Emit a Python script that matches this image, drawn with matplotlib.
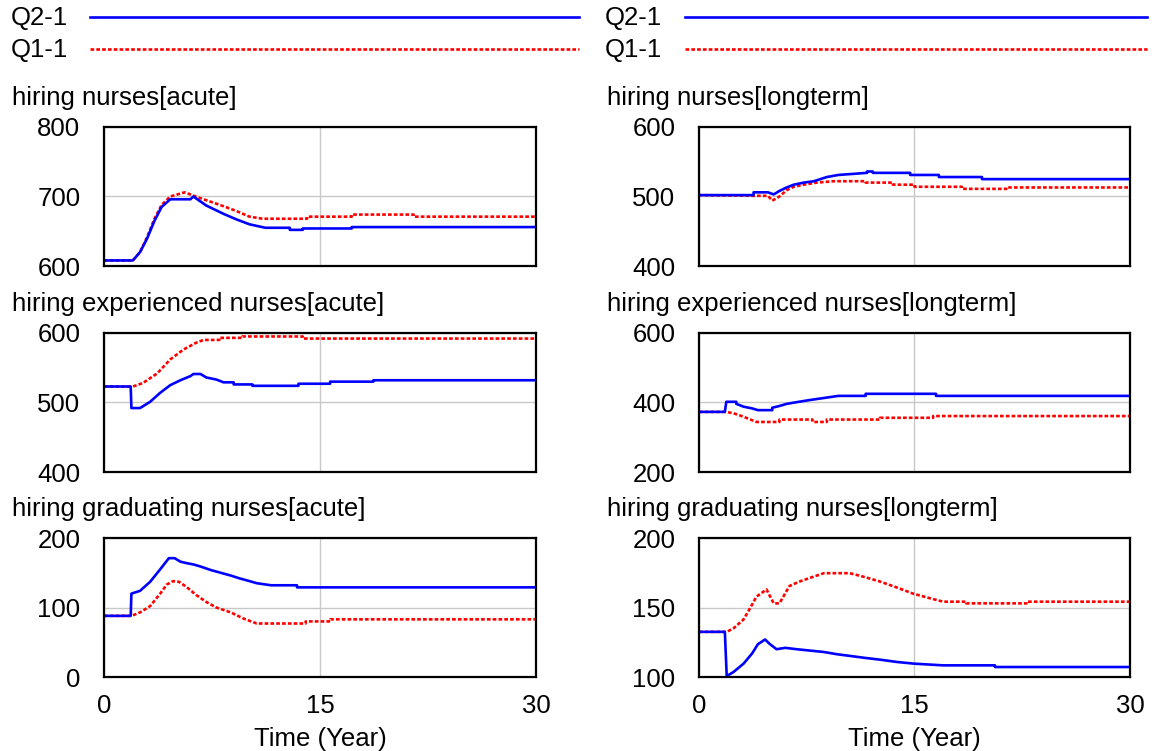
import matplotlib
matplotlib.use('Agg')
import matplotlib.pyplot as plt
from matplotlib.lines import Line2D

plt.rcParams['font.family'] = ['Liberation Sans', 'DejaVu Sans']

# 時間軸 (Year)
x_ticks = [0, 15, 30]
series_names = ['Q2-1', 'Q1-1']

# hiring nurses[acute]
t_na_q2 = [0, 2.0, 2.5, 3.0, 3.5, 4.0, 4.6, 6.0, 6.2, 7.1, 8.3, 9.2, 10.1, 11.2, 12.9, 12.9, 13.8, 13.8, 17.2, 17.2, 30]
v_na_q2 = [608, 608, 620, 640, 665, 685, 696, 696, 700, 687, 675, 667, 660, 655, 655, 652, 652, 654, 654, 656, 656]
t_na_q1 = [0, 2.0, 2.5, 3.0, 3.5, 4.0, 4.6, 5.6, 6.5, 8.3, 9.2, 10.1, 11.0, 14.1, 14.1, 17.2, 17.2, 21.5, 21.5, 30]
v_na_q1 = [608, 608, 620, 642, 668, 688, 700, 706, 699, 686, 679, 671, 668, 668, 671, 671, 674, 674, 671, 671]

# hiring nurses[longterm]
t_nl_q2 = [0, 3.8, 3.8, 4.8, 5.2, 5.6, 6.1, 6.6, 7.3, 8.0, 8.9, 9.7, 11.7, 11.7, 12.1, 12.1, 14.7, 14.7, 16.7, 16.7, 19.7, 19.7, 30]
v_nl_q2 = [502, 502, 506, 506, 503, 508, 513, 517, 520, 522, 528, 531, 534, 536, 536, 534, 534, 531, 531, 528, 528, 525, 525]
t_nl_q1 = [0, 3.8, 4.8, 5.1, 5.6, 6.1, 6.6, 7.3, 8.2, 9.4, 11.6, 11.6, 13.5, 13.5, 15.0, 15.0, 18.3, 18.3, 21.5, 21.5, 30]
v_nl_q1 = [502, 501, 501, 494, 500, 509, 514, 517, 520, 522, 522, 520, 520, 517, 517, 514, 514, 511, 511, 513, 513]

# hiring experienced nurses[acute]
t_ea_q2 = [0, 1.85, 1.9, 2.5, 3.2, 3.9, 4.6, 5.3, 6.0, 6.2, 6.7, 7.1, 7.8, 8.3, 9.0, 9.0, 10.3, 10.3, 13.5, 13.5, 15.7, 15.7, 18.7, 18.7, 30]
v_ea_q2 = [523, 523, 492, 492, 501, 514, 525, 532, 538, 541, 541, 536, 533, 529, 529, 526, 526, 524, 524, 527, 527, 530, 530, 532, 532]
t_ea_q1 = [0, 2.0, 2.7, 3.7, 4.6, 5.5, 6.4, 6.9, 8.0, 8.0, 9.6, 9.6, 13.8, 13.8, 30]
v_ea_q1 = [523, 523, 528, 542, 562, 576, 586, 590, 590, 593, 593, 595, 595, 592, 592]

# hiring experienced nurses[longterm]
t_el_q2 = [0, 1.8, 1.9, 2.6, 2.6, 3.1, 3.7, 4.1, 5.1, 5.1, 5.6, 6.1, 6.8, 7.7, 8.7, 9.7, 11.6, 11.6, 16.5, 16.5, 30]
v_el_q2 = [373, 373, 402, 402, 396, 388, 383, 378, 378, 385, 390, 396, 401, 407, 413, 419, 419, 425, 425, 419, 419]
t_el_q1 = [0, 1.9, 2.4, 3.1, 4.0, 5.6, 5.6, 7.9, 7.9, 8.9, 8.9, 12.6, 12.6, 16.3, 16.3, 30]
v_el_q1 = [373, 373, 369, 359, 344, 344, 351, 351, 344, 344, 351, 351, 356, 356, 361, 361]

# hiring graduating nurses[acute]
t_ga_q2 = [0, 1.85, 1.9, 2.5, 3.2, 3.9, 4.5, 4.9, 5.3, 5.7, 6.2, 6.7, 7.4, 8.1, 8.8, 9.4, 10.1, 10.6, 11.6, 13.4, 13.4, 30]
v_ga_q2 = [88, 88, 120, 124, 137, 155, 171, 171, 166, 164, 162, 159, 154, 150, 146, 142, 138, 135, 132, 132, 129, 129]
t_ga_q1 = [0, 1.9, 2.5, 3.2, 3.9, 4.35, 4.8, 5.2, 5.7, 6.4, 7.1, 7.8, 8.8, 9.7, 10.6, 14.0, 14.0, 15.7, 15.7, 30]
v_ga_q1 = [88, 88, 93, 102, 120, 133, 138, 137, 130, 118, 108, 100, 93, 84, 77, 77, 80, 80, 83, 83]

# hiring graduating nurses[longterm]
t_gl_q2 = [0, 1.8, 1.93, 2.4, 3.1, 3.7, 4.1, 4.6, 4.9, 5.4, 6.0, 6.8, 8.7, 9.6, 10.5, 11.6, 12.6, 13.8, 15.0, 17.0, 20.6, 20.6, 30]
v_gl_q2 = [132.5, 132.5, 100.7, 103.6, 109.6, 117, 123.6, 127, 124, 120, 121, 120, 118, 116.4, 115.2, 113.7, 112.5, 110.8, 109.6, 108.4, 108.4, 107.2, 107.2]
t_gl_q1 = [0, 1.93, 2.4, 3.1, 3.55, 4.0, 4.7, 5.2, 5.6, 6.3, 7.0, 8.0, 8.7, 10.5, 11.4, 12.6, 13.8, 14.9, 16.1, 17.0, 18.6, 18.6, 22.8, 22.8, 30]
v_gl_q1 = [132.5, 132.5, 135, 141.4, 149.4, 157.8, 163, 153, 153, 165.5, 168.7, 172.3, 174.7, 174.7, 172.3, 168.7, 164.3, 160, 156.6, 154.2, 154.2, 153, 153, 154.2, 154.2]

panels = [
    ('hiring nurses[acute]', t_na_q2, v_na_q2, t_na_q1, v_na_q1, [600, 700, 800]),
    ('hiring nurses[longterm]', t_nl_q2, v_nl_q2, t_nl_q1, v_nl_q1, [400, 500, 600]),
    ('hiring experienced nurses[acute]', t_ea_q2, v_ea_q2, t_ea_q1, v_ea_q1, [400, 500, 600]),
    ('hiring experienced nurses[longterm]', t_el_q2, v_el_q2, t_el_q1, v_el_q1, [200, 400, 600]),
    ('hiring graduating nurses[acute]', t_ga_q2, v_ga_q2, t_ga_q1, v_ga_q1, [0, 100, 200]),
    ('hiring graduating nurses[longterm]', t_gl_q2, v_gl_q2, t_gl_q1, v_gl_q1, [100, 150, 200]),
]

FS = 18.5
blue = '#0000ff'
red = '#ff0000'
red_ls = (0, (1.4, 0.8))

fig = plt.figure(figsize=(11.73, 7.51), dpi=100)

col_x = [0.0887, 0.5959]
col_w = [0.3683, 0.3674]
row_y = [0.6458, 0.3715, 0.0985]
ax_h = 0.1851

for i, (title, t2, v2, t1, v1, yt) in enumerate(panels):
    r, c = i // 2, i % 2
    ax = fig.add_axes([col_x[c], row_y[r], col_w[c], ax_h])
    ax.plot(t1, v1, color=red, lw=1.9, ls=red_ls)
    ax.plot(t2, v2, color=blue, lw=1.9)
    ax.set_xlim(0, 30)
    ax.set_ylim(yt[0], yt[-1])
    ax.set_xticks(x_ticks)
    ax.set_yticks(yt)
    ax.grid(True, color='#c8c8c8', lw=1.0)
    ax.set_axisbelow(True)
    for s in ax.spines.values():
        s.set_linewidth(1.6)
        s.set_color('black')
    ax.tick_params(length=0, labelsize=FS)
    ax.tick_params(axis='y', pad=17)
    ax.tick_params(axis='x', pad=12)
    if r == 2:
        ax.set_xlabel('Time (Year)', fontsize=FS, labelpad=7)
    else:
        ax.tick_params(labelbottom=False)
    # パネルタイトル
    fig.text(col_x[c] - 0.0785, row_y[r] + ax_h + 0.038, title, fontsize=FS,
             ha='left', va='center')

# 凡例 (上部)
leg_x = [(0.0095, 0.0767, 0.494), (0.5157, 0.584, 0.978)]
leg_y = [0.976, 0.934]
for tx, lx0, lx1 in leg_x:
    for name, yy, col, ls in zip(series_names, leg_y, [blue, red], ['-', red_ls]):
        fig.text(tx, yy, name, fontsize=FS, ha='left', va='center')
        fig.add_artist(Line2D([lx0, lx1], [yy + 0.001, yy + 0.001], color=col,
                              lw=1.9, ls=ls, transform=fig.transFigure))

plt.savefig('out.png', dpi=100)
plt.close(fig)
